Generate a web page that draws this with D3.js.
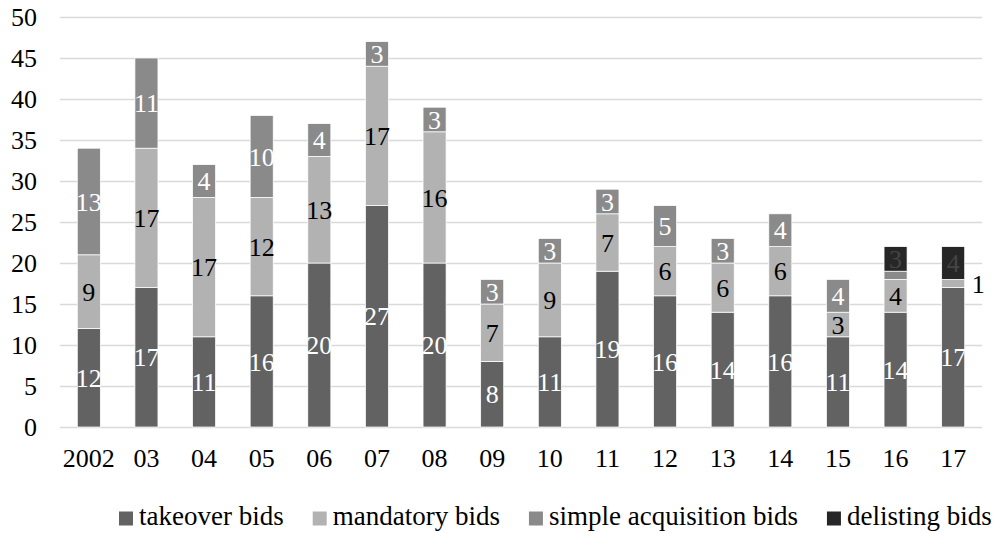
<!DOCTYPE html>
<html>
<head>
<meta charset="utf-8">
<script src="https://cdn.jsdelivr.net/npm/d3@7"></script>
<style>
  body { margin: 0; background: #fff; }
</style>
</head>
<body>
<svg id="chart" width="1006" height="533"></svg>
<script>
// years on the x axis
const years = ["2002", "03", "04", "05", "06", "07", "08", "09", "10", "11", "12", "13", "14", "15", "16", "17"];

// series values, one per year
const takeover    = [12, 17, 11, 16, 20, 27, 20, 8, 11, 19, 16, 14, 16, 11, 14, 17];
const mandatory   = [9, 17, 17, 12, 13, 17, 16, 7, 9, 7, 6, 6, 6, 3, 4, 1];
const simpleAcq   = [13, 11, 4, 10, 4, 3, 3, 3, 3, 3, 5, 3, 4, 4, 1, 0];
const delisting   = [0, 0, 0, 0, 0, 0, 0, 0, 0, 0, 0, 0, 0, 0, 3, 4];

const yTicks = [0, 5, 10, 15, 20, 25, 30, 35, 40, 45, 50];

// label quirks of the original: one label hidden, one pushed beside the bar
const hiddenLabels = [["16", "simple"]];
const outsideLabels = [["17", "mandatory"]];

const keys = ["takeover", "mandatory", "simple", "delisting"];
const names = {
  takeover: "takeover bids",
  mandatory: "mandatory bids",
  simple: "simple acquisition bids",
  delisting: "delisting bids"
};
const color = d3.scaleOrdinal().domain(keys)
  .range(["#626262", "#b2b2b2", "#8a8a8a", "#262626"]);
const labelColor = { takeover: "#fff", mandatory: "#000", simple: "#fff", delisting: "#444" };
const FONT = "Liberation Serif";

const rows = years.map(function(yr, i) {
  return { year: yr, takeover: takeover[i], mandatory: mandatory[i], simple: simpleAcq[i], delisting: delisting[i] };
});

const plot = { left: 60, right: 982, top: 17, bottom: 427 };

const svg = d3.select("#chart");

const x = d3.scaleBand().domain(years).range([plot.left, plot.right])
  .paddingInner(0.6).paddingOuter(0.3);
const y = d3.scaleLinear().domain([0, 50]).range([plot.bottom, plot.top]);

// gridlines + y labels
const yAxis = svg.append("g")
  .attr("transform", `translate(${plot.left},0)`)
  .call(d3.axisLeft(y).tickValues(yTicks).tickSize(-(plot.right - plot.left)).tickPadding(23));
yAxis.select(".domain").remove();
yAxis.selectAll("line").attr("stroke", "#d9d9d9").attr("stroke-width", 1.5);
yAxis.selectAll("text").attr("fill", "#000")
  .style("font-family", FONT).style("font-size", "26px");

// x labels
const xAxis = svg.append("g")
  .attr("transform", `translate(0,${plot.bottom})`)
  .call(d3.axisBottom(x).tickSize(0).tickPadding(22));
xAxis.select(".domain").remove();
xAxis.selectAll("text").attr("fill", "#000")
  .style("font-family", FONT).style("font-size", "26px");

const layers = d3.stack().keys(keys)(rows);

const g = svg.append("g");
layers.forEach(function(layer) {
  const k = layer.key;
  layer.forEach(function(d) {
    const v = d[1] - d[0];
    if (v <= 0) return;
    g.append("rect")
      .attr("x", x(d.data.year))
      .attr("width", x.bandwidth())
      .attr("y", y(d[1]))
      .attr("height", y(d[0]) - y(d[1]))
      .attr("fill", color(k))
      .attr("stroke", "#fff")
      .attr("stroke-width", 0.75);
  });
});

// segment labels
layers.forEach(function(layer) {
  const k = layer.key;
  layer.forEach(function(d) {
    const v = d[1] - d[0];
    if (v <= 0) return;
    const yr = d.data.year;
    if (hiddenLabels.some(function(h) { return h[0] === yr && h[1] === k; })) return;
    const outside = outsideLabels.some(function(h) { return h[0] === yr && h[1] === k; });
    g.append("text")
      .attr("x", outside ? x(yr) + x.bandwidth() + 7 : x(yr) + x.bandwidth() / 2)
      .attr("y", y((d[0] + d[1]) / 2))
      .attr("dy", "0.35em")
      .attr("text-anchor", outside ? "start" : "middle")
      .attr("fill", outside ? "#000" : labelColor[k])
      .style("font-family", FONT).style("font-size", "26px")
      .text(v);
  });
});

// legend
const legend = svg.append("g").attr("transform", "translate(119,525)");
let lx = 0;
keys.forEach(function(k) {
  const item = legend.append("g").attr("transform", `translate(${lx},0)`);
  item.append("rect").attr("x", 0).attr("y", -13.5).attr("width", 14).attr("height", 14)
    .attr("fill", color(k));
  const t = item.append("text").attr("x", 20).attr("y", 0)
    .attr("fill", "#000")
    .style("font-family", FONT).style("font-size", "27px")
    .text(names[k]);
  lx += 20 + t.node().getComputedTextLength() + 29;
});
</script>
</body>
</html>
